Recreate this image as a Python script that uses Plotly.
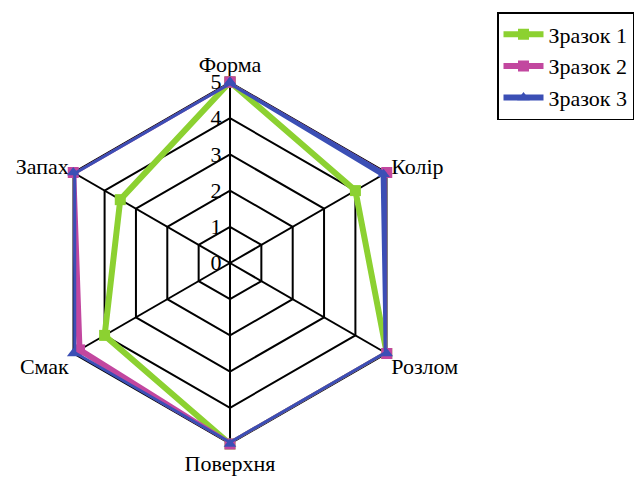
import plotly.graph_objects as go

categories = ["Форма", "Колір", "Розлом", "Поверхня", "Смак", "Запах"]
zrazok1 = [5, 4, 5, 5, 4, 3.5]
zrazok2 = [5, 5, 5, 5, 4.8, 5]
zrazok3 = [5, 4.9, 5, 5, 5, 5]
series_names = ["Зразок 1", "Зразок 2", "Зразок 3"]
tick_vals = [0, 1, 2, 3, 4, 5]

colors = ["#8cd131", "#c2479f", "#3b4fb5"]
symbols = ["square", "square", "triangle-up"]

fig = go.Figure()
for name, vals, c, s in zip(series_names, [zrazok1, zrazok2, zrazok3], colors, symbols):
    fig.add_trace(go.Scatterpolar(
        r=vals + vals[:1], theta=categories + categories[:1],
        mode="lines+markers", name=name, cliponaxis=False,
        line=dict(color=c, width=6),
        marker=dict(symbol=s, size=11, color=c),
    ))

W, H = 641, 478
cx, cy, R = 230, 263, 181
fig.update_layout(
    width=W, height=H,
    margin=dict(l=0, r=0, t=0, b=0),
    paper_bgcolor="white", plot_bgcolor="white",
    font=dict(family="Liberation Serif", size=22, color="black"),
    polar=dict(
        domain=dict(x=[(cx - R) / W, (cx + R) / W], y=[(H - cy - R) / H, (H - cy + R) / H]),
        bgcolor="white",
        gridshape="linear",
        angularaxis=dict(
            rotation=90, direction="clockwise", layer="below traces",
            showline=True, linecolor="black", linewidth=1.5,
            gridcolor="black", gridwidth=1.5,
            ticks="", tickfont=dict(size=22, family="Liberation Serif"),
        ),
        radialaxis=dict(
            range=[0, 5], tickvals=tick_vals, angle=90, tickangle=90,
            side="counterclockwise", layer="below traces",
            showline=True, linecolor="black", linewidth=1.5,
            gridcolor="black", gridwidth=1.5,
            ticks="", tickfont=dict(size=22, family="Liberation Serif"),
        ),
    ),
    legend=dict(
        x=497 / W, y=1 - 12 / H, xanchor="left", yanchor="top",
        bordercolor="black", borderwidth=1.5,
        font=dict(size=22, family="Liberation Serif"),
        itemwidth=40, tracegroupgap=0,
    ),
)

fig.write_html("out.html")
